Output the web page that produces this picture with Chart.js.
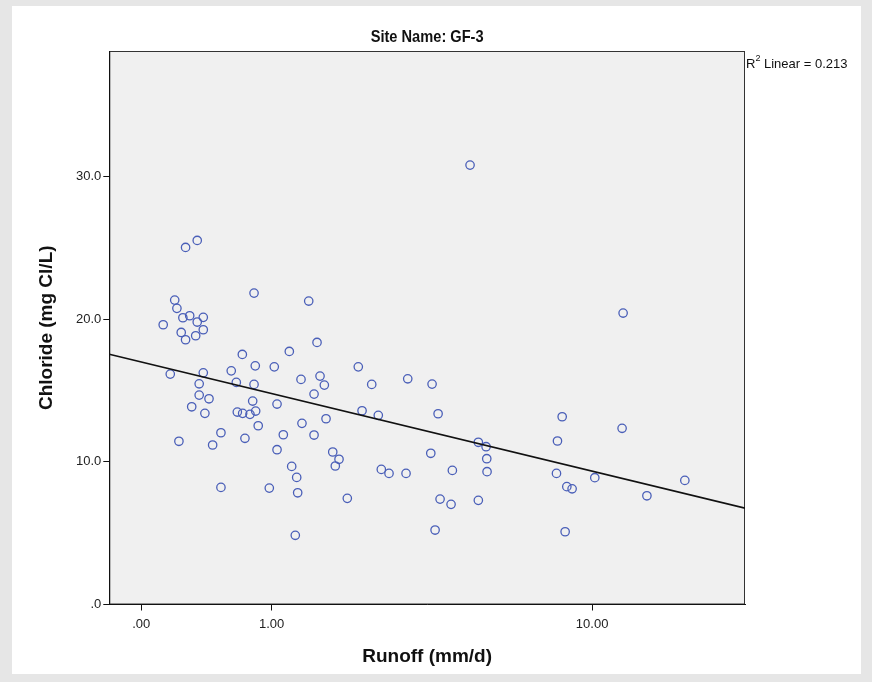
<!DOCTYPE html>
<html>
<head>
<meta charset="utf-8">
<script src="https://cdn.jsdelivr.net/npm/chart.js@4.4.1/dist/chart.umd.min.js"></script>
<style>
  html, body { margin: 0; padding: 0; }
  body { width: 872px; height: 682px; background: #e6e6e6; position: relative; overflow: hidden; }
  #card { position: absolute; left: 12px; top: 6px; width: 849px; height: 668px; background: #fff; }
  #wrap { position: absolute; left: 0; top: 0; width: 872px; height: 682px; }
</style>
</head>
<body>
<div id="card"></div>
<div id="wrap"><canvas id="chart" width="872" height="682"></canvas></div>
<script>
// runoff (mm/d) and chloride (mg Cl/L)
const runoff = [
  0.266, 0.347, 0.195, 0.209, 0.248, 0.294, 0.391, 0.347, 0.124, 0.391,
  0.237, 0.336, 0.266, 0.822, 1.437, 1.547, 0.712, 1.198, 0.834, 1.029,
  0.614, 0.167, 0.391, 1.588, 1.339, 0.361, 0.658, 0.822, 1.648, 1.507,
  0.361, 0.434, 0.308, 0.403, 0.809, 0.667, 0.715, 0.783, 0.838, 1.059,
  0.863, 1.351, 1.672, 0.528, 1.129, 1.507, 0.222, 0.462, 0.736, 1.059,
  1.769, 1.807, 1.863, 1.226, 1.286, 0.528, 0.976, 1.298, 1.269, 2.172,
  2.407, 3.126, 3.696, 2.236, 2.528, 3.849, 1.992, 3.664, 5.006, 5.258,
  5.281, 5.291, 2.585, 2.735, 3.089, 4.231, 3.900, 4.195, 5.006, 3.772,
  4.747, 11.97, 8.380, 11.90, 8.148, 8.100, 10.157, 17.01, 8.615, 8.889,
  13.72, 8.529
];
const chloride = [
  25.03, 25.52, 21.34, 20.76, 20.10, 20.24, 20.13, 19.80, 19.61, 19.26,
  19.07, 18.84, 18.56, 21.83, 21.27, 18.37, 17.53, 17.74, 16.73, 16.66,
  16.38, 16.15, 16.24, 16.01, 15.78, 15.47, 15.57, 15.43, 15.38, 14.75,
  14.68, 14.42, 13.86, 13.40, 14.26, 13.49, 13.40, 13.33, 13.56, 14.05,
  12.53, 12.70, 13.02, 12.04, 11.90, 11.88, 11.44, 11.18, 11.65, 10.85,
  10.69, 9.71, 10.18, 9.68, 8.91, 8.21, 8.16, 7.83, 4.85, 16.66,
  15.43, 15.82, 15.45, 13.58, 13.26, 13.37, 7.44, 10.60, 11.37, 11.06,
  10.22, 9.31, 9.47, 9.19, 9.19, 9.40, 7.39, 7.02, 7.30, 5.22,
  30.80, 20.43, 13.16, 12.35, 11.46, 9.19, 8.89, 8.70, 8.26, 8.11,
  7.62, 5.10
];

// axis ranges and ticks
const xRange = [-0.185, 23.8];
const yRange = [0, 38.8];
const xTickValues = [0, 1, 10];
const xTickLabels = [".00", "1.00", "10.00"];
const yTickValues = [0, 10, 20, 30];
const yTickLabels = [".0", "10.0", "20.0", "30.0"];

// linear fit on the safe-log runoff axis
const fitIntercept = 17.0;
const fitSlope = -7.35;
const fitLabel = "0.213";

// SPSS "safe log" transform
const safeLog = v => Math.sign(v) * Math.log10(Math.abs(v) + 1);

const points = runoff.map((r, i) => ({ x: safeLog(r), y: chloride[i] }));
const uMin = safeLog(xRange[0]);
const uMax = safeLog(xRange[1]);
const fitPoints = [uMin, uMax].map(u => ({ x: u, y: fitIntercept + fitSlope * u }));

const tickFont = { family: '"Liberation Sans", Arial, sans-serif', size: 13 };
const titleFont = { family: '"Liberation Sans", Arial, sans-serif', size: 19, weight: "bold" };

// plot background + frame, title and R² note
const decor = {
  id: "decor",
  beforeDraw(chart) {
    const { ctx, chartArea: a } = chart;
    ctx.save();
    ctx.fillStyle = "#f0f0f0";
    ctx.fillRect(a.left, a.top, a.right - a.left, a.bottom - a.top);
    ctx.strokeStyle = "#333";
    ctx.lineWidth = 1;
    ctx.strokeRect(a.left + 0.5, a.top + 0.5, a.right - a.left - 1, a.bottom - a.top - 1);
    ctx.restore();
  },
  afterDraw(chart) {
    const { ctx, chartArea: a } = chart;
    ctx.save();
    ctx.fillStyle = "#111";
    ctx.textBaseline = "middle";

    // condensed bold title
    ctx.save();
    ctx.translate((a.left + a.right) / 2, 37);
    ctx.scale(0.86, 1);
    ctx.textAlign = "center";
    ctx.font = 'bold 17px "Liberation Sans Narrow", "Liberation Sans", Arial, sans-serif';
    ctx.fillText("Site Name: GF-3", 0, 0);
    ctx.restore();

    // R² Linear = ...
    ctx.textAlign = "left";
    ctx.font = '13px "Liberation Sans", Arial, sans-serif';
    let x = a.right + 1;
    ctx.fillText("R", x, 64);
    x += ctx.measureText("R").width;
    ctx.font = '9px "Liberation Sans", Arial, sans-serif';
    ctx.fillText("2", x, 59);
    x += ctx.measureText("2").width;
    ctx.font = '13px "Liberation Sans", Arial, sans-serif';
    ctx.fillText(" Linear = " + fitLabel, x, 64);
    ctx.restore();
  }
};

new Chart(document.getElementById("chart"), {
  type: "scatter",
  data: {
    datasets: [
      {
        data: points,
        pointStyle: "circle",
        pointRadius: 4.2,
        pointBorderWidth: 1.3,
        pointBorderColor: "#4a5fb8",
        pointBackgroundColor: "rgba(0,0,0,0)",
        order: 2
      },
      {
        type: "line",
        data: fitPoints,
        borderColor: "#111",
        borderWidth: 1.6,
        pointRadius: 0,
        fill: false,
        order: 1
      }
    ]
  },
  options: {
    responsive: false,
    animation: false,
    events: [],
    layout: { padding: { left: 30, top: 51, right: 127, bottom: 10 } },
    plugins: { legend: { display: false }, tooltip: { enabled: false }, title: { display: false } },
    scales: {
      x: {
        type: "linear",
        min: uMin,
        max: uMax,
        afterBuildTicks: s => { s.ticks = xTickValues.map(v => ({ value: safeLog(v) })); },
        afterFit: s => { s.height = 67.5; },
        ticks: {
          autoSkip: false,
          maxRotation: 0,
          padding: 6,
          color: "#222",
          font: tickFont,
          callback: (v, i) => xTickLabels[i]
        },
        grid: { drawOnChartArea: false, drawTicks: true, tickLength: 6, color: "#111" },
        border: { display: true, color: "#111", width: 1 },
        title: { display: true, text: "Runoff (mm/d)", color: "#111", font: titleFont, padding: { top: 0, bottom: 4 } }
      },
      y: {
        type: "linear",
        min: yRange[0],
        max: yRange[1],
        afterBuildTicks: s => { s.ticks = yTickValues.map(v => ({ value: v })); },
        afterFit: s => { s.width = 79.3; },
        ticks: {
          autoSkip: false,
          padding: 2,
          color: "#222",
          font: tickFont,
          callback: (v, i) => yTickLabels[i]
        },
        grid: { drawOnChartArea: false, drawTicks: true, tickLength: 6, color: "#111" },
        border: { display: true, color: "#111", width: 1 },
        title: { display: true, text: "Chloride (mg Cl/L)", color: "#111", font: titleFont, padding: { top: 5, bottom: 0 } }
      }
    }
  },
  plugins: [decor]
});
</script>
</body>
</html>
